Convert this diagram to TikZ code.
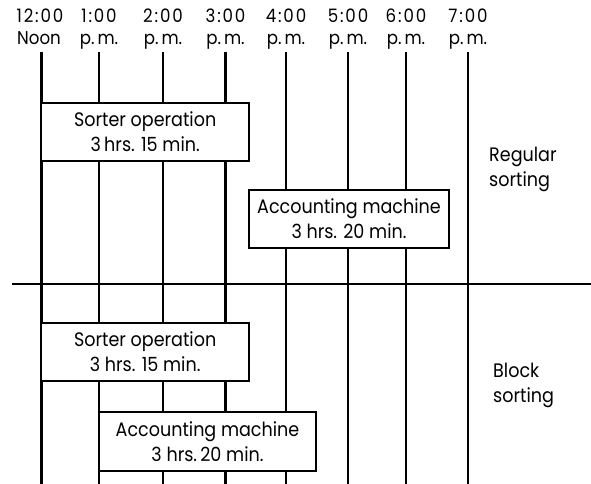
\documentclass[tikz,border=0pt]{standalone}
\usepackage{fontspec}
\setmainfont{Poppins}[FakeStretch=0.9]
\newfontfamily\hourfont{Poppins}[FakeStretch=0.9,LetterSpace=10]
\begin{document}
\begin{tikzpicture}[x=1pt,y=-1pt,
  tline/.style={line width=2.8pt},
  hline/.style={line width=1.8pt},
  box/.style={draw,line width=1.6pt,fill=white,inner sep=0pt,align=center,font=\fontsize{19.5}{25}\selectfont},
  tlab/.style={anchor=base,inner sep=0pt,font=\hourfont\fontsize{18.5}{20}\selectfont},
  plab/.style={anchor=base,inner sep=0pt,font=\fontsize{18.5}{20}\selectfont},
  side/.style={anchor=base west,inner sep=0pt,font=\fontsize{19.5}{20}\selectfont}]
\useasboundingbox (0,0) rectangle (591,484);
% time lines
\foreach \i/\x in {0/41.5,1/99,2/163,3/225.5,4/286,5/348,6/406,7/468}{
  \coordinate (t\i) at (\x,52);
  \coordinate (b\i) at (\x,484);
  \draw[tline] (t\i) -- (b\i);
}
% labels
\node[tlab] (h0) at (40,23) {12:00};
\node[plab] (p0) at (39,45) {Noon};
\foreach \i/\x/\h in {1/99/1:00,2/163/2:00,3/225.5/3:00,4/286/4:00,5/348/5:00,6/406/6:00,7/468/7:00}{
  \node[tlab] (h\i) at (\x,23) {\h};
  \node[plab] (p\i) at (\x,45) {p.\,m.};
}
% separator
\coordinate (sl) at (12,284);
\coordinate (sr) at (591,284);
\draw[hline] (sl) -- (sr);
% boxes
\node[box,minimum width=208pt,minimum height=58pt] (s1) at (145.2,132) {Sorter operation\\3\,hrs. 15 min.};
\node[box,minimum width=200pt,minimum height=58pt] (a1) at (349,219) {Accounting machine\\3 hrs. 20 min.};
\node[box,minimum width=208pt,minimum height=58pt] (s2) at (145.2,352) {Sorter operation\\3 hrs. 15 min.};
\node[box,minimum width=217pt,minimum height=59pt] (a2) at (207.5,441.5) {Accounting machine\\3 hrs.\,20 min.};
% side labels
\node[side] (r1) at (489,161) {Regular};
\node[side] (r2) at (489,186) {sorting};
\node[side] (k1) at (493,377) {Block};
\node[side] (k2) at (493,402) {sorting};
\end{tikzpicture}
\end{document}
